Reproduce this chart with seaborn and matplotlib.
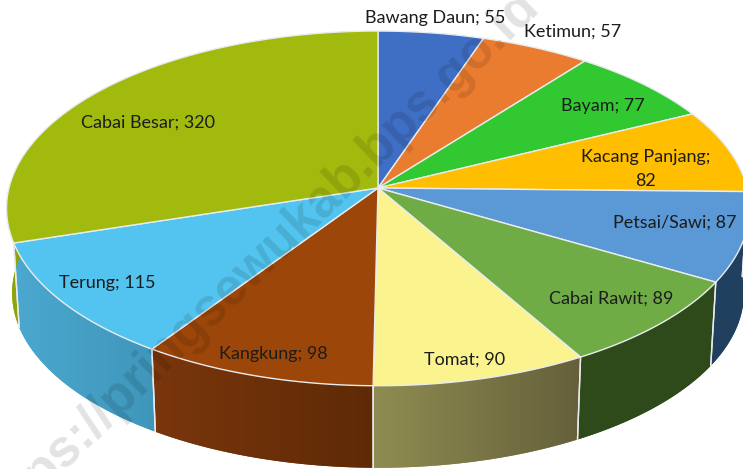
"""Perspective pie of vegetable production, drawn on plain matplotlib axes with a seaborn theme."""

import matplotlib.pyplot as plt
import numpy as np
import seaborn as sns

names = ["Bawang Daun", "Ketimun", "Bayam", "Kacang Panjang", "Petsai/Sawi",
         "Cabai Rawit", "Tomat", "Kangkung", "Terung", "Cabai Besar"]
values = [55, 57, 77, 82, 87, 89, 90, 98, 115, 320]
top_colors = ["#3f6fc4", "#ea7c30", "#32c832", "#ffbe00", "#5a98d6",
              "#6fac46", "#fbf38e", "#9c4709", "#53c4ef", "#a2b90e"]
wall_left = ["#2f5597", "#ae5a21", "#249024", "#b88a00", "#21405f",
             "#2f4a1a", "#8f8c52", "#7a360c", "#4ba8cf", "#8fa30c"]
wall_right = ["#2f5597", "#ae5a21", "#249024", "#b88a00", "#21405f",
              "#2f4a1a", "#65603a", "#5e2a06", "#3f96ba", "#8fa30c"]

label_xy = [(435, 18), (573, 32), (603, 106), (646, 169), (675, 223),
            (611, 299), (465, 360), (273, 354), (107, 283), (148, 123)]

CX, CY = 378, 188
RX, RY = 369, 175
TILT = 0.115
DEPTH = 85
BOTTOM_SCALE = 0.985
EDGE = "#e9ecef"


def project(theta, scale=1.0, drop=0.0):
    """Map a clockwise angle from twelve o'clock onto the tilted disc."""
    u, v = np.sin(theta), np.cos(theta)
    w = 1 + TILT * v
    return CX + scale * RX * u / w, CY + drop - scale * RY * v / w


sns.set_theme(style="white")
plt.rcParams["font.family"] = ["Lato", "DejaVu Sans"]

fig, ax = plt.subplots(figsize=(7.43, 4.69), dpi=100)
fig.subplots_adjust(0, 0, 1, 1)

top_palette = sns.color_palette(top_colors)
left_palette = np.array(sns.color_palette(wall_left))
right_palette = np.array(sns.color_palette(wall_right))

edges = np.cumsum([0] + values) / sum(values) * 2 * np.pi

# side walls first, the top surface covers whatever faces away
for i in range(len(values)):
    theta = np.linspace(edges[i], edges[i + 1], 80)
    x1, y1 = project(theta)
    x2, y2 = project(theta, BOTTOM_SCALE, DEPTH)
    xs = np.r_[x1, x2[::-1]]
    ys = np.r_[y1, y2[::-1]]
    wall = ax.fill(xs, ys, color=left_palette[i], lw=0, zorder=1)[0]
    # shading runs left to right across the screen, clipped to the wall
    ramp = np.linspace(0, 1, 128)[None, :, None]
    shade = left_palette[i][None, None, :] * (1 - ramp) + right_palette[i][None, None, :] * ramp
    img = ax.imshow(shade, extent=(xs.min(), xs.max(), ys.max(), ys.min()), aspect="auto", zorder=1.5)
    img.set_clip_path(wall)
    for k in (0, -1):
        ax.plot([x1[k], x2[k]], [y1[k], y2[k]], color=EDGE, lw=1, zorder=2)

for i in range(len(values)):
    theta = np.linspace(edges[i], edges[i + 1], 120)
    x, y = project(theta)
    ax.fill(np.r_[CX, x], np.r_[CY, y], facecolor=top_palette[i], edgecolor=EDGE, lw=1, zorder=3)

for name, value, (lx, ly) in zip(names, values, label_xy):
    text = f"{name}; {value}" if name != "Kacang Panjang" else f"{name};\n{value}"
    ax.text(lx, ly, text, ha="center", va="center", fontsize=13, color="#1c1c1c",
            linespacing=1.55, zorder=4)

ax.text(258, 262, "https://pringsewukab.bps.go.id", rotation=44, rotation_mode="anchor",
        ha="center", va="center", fontsize=37, family="Liberation Sans", weight="bold",
        color="#000000", alpha=0.115, zorder=5)

ax.set_xlim(0, 743)
ax.set_ylim(469, 0)
ax.axis("off")

fig.savefig("out.png", dpi=100)
